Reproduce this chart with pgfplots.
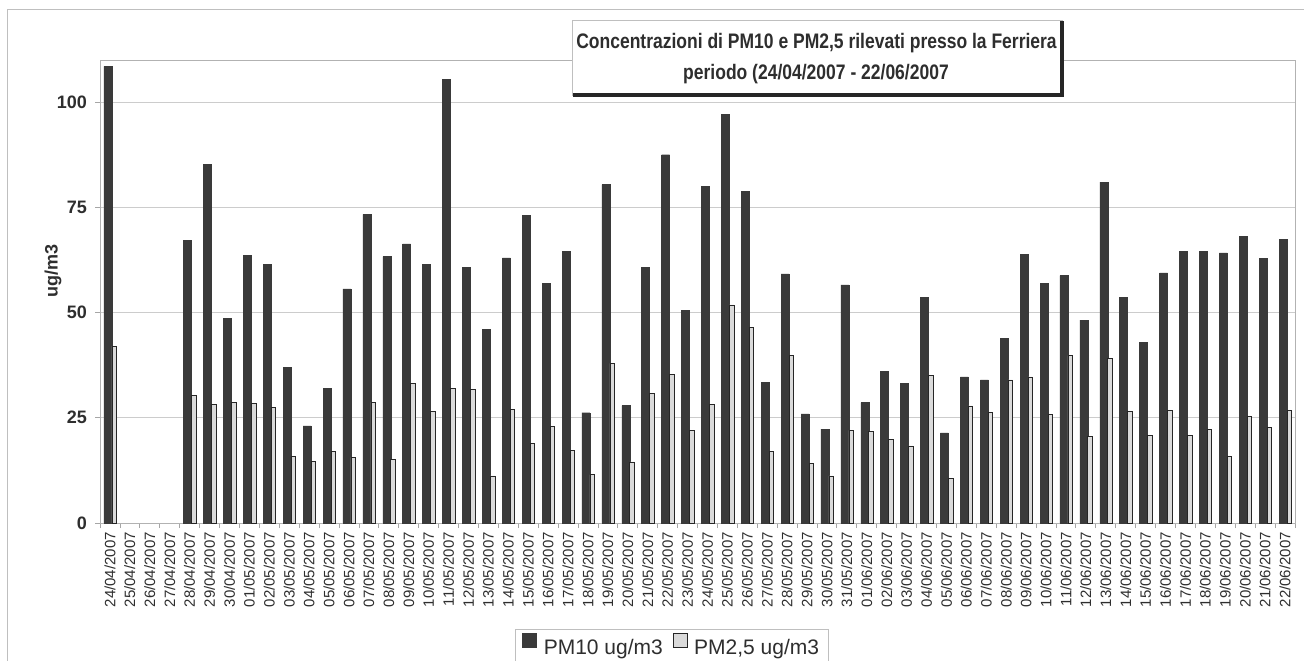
\documentclass[border=0pt]{standalone}
\usepackage{fontspec}
\setmainfont{Liberation Sans}
\usepackage{pgfplots}
\pgfplotsset{compat=1.18}
\usepackage{pgfplotstable}
\definecolor{pmdark}{HTML}{3A3A3A}
\definecolor{pmlight}{HTML}{DADADA}
\definecolor{txt}{HTML}{2E2E2E}

\pgfplotstableread{
x pm10 pm25
0 108.5 42.0
4 67.1 30.3
5 85.2 28.1
6 48.7 28.7
7 63.6 28.4
8 61.4 27.4
9 37.0 15.9
10 23.1 14.6
11 32.0 17.0
12 55.6 15.6
13 73.3 28.7
14 63.3 15.1
15 66.3 33.1
16 61.4 26.5
17 105.4 32.0
18 60.8 31.8
19 46.0 11.2
20 63.0 26.9
21 73.1 19.0
22 56.9 22.9
23 64.6 17.3
24 26.2 11.5
25 80.4 37.9
26 27.9 14.5
27 60.8 30.8
28 87.5 35.3
29 50.6 22.0
30 80.0 28.2
31 97.1 51.8
32 78.8 46.4
33 33.4 17.0
34 59.2 39.8
35 25.9 14.1
36 22.3 11.2
37 56.6 22.0
38 28.6 21.7
39 36.0 19.9
40 33.1 18.3
41 53.6 35.0
42 21.4 10.6
43 34.7 27.8
44 34.0 26.2
45 43.8 34.0
46 63.9 34.7
47 56.9 25.8
48 58.8 39.8
49 48.2 20.6
50 81.0 39.2
51 53.6 26.5
52 43.0 20.9
53 59.4 26.8
54 64.5 20.9
55 64.5 22.2
56 64.2 15.9
57 68.1 25.4
58 62.9 22.8
59 67.4 26.7
}\data

\begin{document}
\begin{tikzpicture}[x=1pt,y=1pt]
\path[use as bounding box] (0,0) rectangle (1304,-661);
\draw[gray!50, line width=0.8pt] (7,-700) -- (7,-9) -- (1320,-9);
\begin{axis}[
  at={(100pt,-523pt)}, anchor=south west,
  scale only axis, width=1195pt, height=463pt,
  ybar,
  xmin=-0.5, xmax=59.5, ymin=0, ymax=110,
  ytick={0,25,50,75,100},
  xtick pos=bottom, ytick pos=left,
  ymajorgrids, grid style={gray!40, line width=0.8pt},
  axis line style={gray!60, line width=0.8pt},
  tick align=outside, major tick length=5pt,
  tick style={gray!70, line width=0.8pt},
  /pgf/number format/assume math mode=true,
  xtick={-0.5,0.5,...,59.5}, xticklabels={},
  extra x ticks={0,1,...,59},
  extra x tick labels={24/04/2007,25/04/2007,26/04/2007,27/04/2007,28/04/2007,29/04/2007,30/04/2007,01/05/2007,02/05/2007,03/05/2007,04/05/2007,05/05/2007,06/05/2007,07/05/2007,08/05/2007,09/05/2007,10/05/2007,11/05/2007,12/05/2007,13/05/2007,14/05/2007,15/05/2007,16/05/2007,17/05/2007,18/05/2007,19/05/2007,20/05/2007,21/05/2007,22/05/2007,23/05/2007,24/05/2007,25/05/2007,26/05/2007,27/05/2007,28/05/2007,29/05/2007,30/05/2007,31/05/2007,01/06/2007,02/06/2007,03/06/2007,04/06/2007,05/06/2007,06/06/2007,07/06/2007,08/06/2007,09/06/2007,10/06/2007,11/06/2007,12/06/2007,13/06/2007,14/06/2007,15/06/2007,16/06/2007,17/06/2007,18/06/2007,19/06/2007,20/06/2007,21/06/2007,22/06/2007},
  extra x tick style={major tick length=0pt, xticklabel shift=9pt, xtick pos=bottom,
     xticklabel style={rotate=90, anchor=east, inner sep=0pt, text=txt, font=\fontsize{15}{15}\selectfont}},
  yticklabel style={font=\bfseries\fontsize{18}{18}\selectfont, text=txt, inner sep=0pt},
  yticklabel shift=8pt,
  ylabel={ug/m3},
  every axis y label/.style={at={(axis description cs:-0.0393,0.545)}, rotate=90, anchor=center, font=\bfseries\fontsize{18}{18}\selectfont, text=txt},
  legend columns=2,
  legend style={at={(axis description cs:0.3473,-0.229)}, anchor=north west, draw=gray!50, line width=0.8pt,
     font=\fontsize{21}{21}\selectfont, text=txt, inner xsep=7pt, inner ysep=4pt,
     /tikz/every even column/.append style={column sep=8pt}},
  legend image code/.code={\draw[#1, line width=0.7pt] (0pt,0pt) rectangle (14pt,13.5pt); \path[draw=none, fill=none] (0pt,0pt) rectangle (19pt,0.1pt);},
]
\addplot[fill=pmdark, draw=pmdark, bar width=8pt, bar shift=-2pt] table[x=x,y=pm10]{\data};
\addlegendentry{PM10 ug/m3}
\addplot[fill=pmlight, draw=black!85, line width=0.7pt, bar width=4.5pt, bar shift=4.25pt] table[x=x,y=pm25]{\data};
\addlegendentry{PM2,5 ug/m3}
\end{axis}
\draw[gray!50, line width=0.8pt, fill=white] (572,-20) rectangle (1062,-95);
\draw[black!85, line width=4pt] (573,-95) -- (1062,-95) -- (1062,-21);
\node[anchor=base, inner sep=0pt, font=\bfseries\fontsize{17.5}{20}\selectfont, text=txt] at (816.5,-48.5) {\scalebox{1}[1.2]{Concentrazioni di PM10 e PM2,5 rilevati presso la Ferriera}};
\node[anchor=base, inner sep=0pt, font=\bfseries\fontsize{17.5}{20}\selectfont, text=txt] at (816,-79) {\scalebox{1}[1.2]{periodo (24/04/2007 - 22/06/2007}};
\end{tikzpicture}
\end{document}
